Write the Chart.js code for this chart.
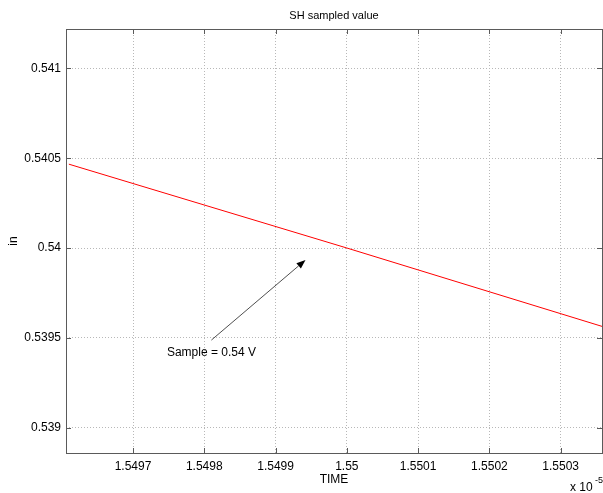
<!DOCTYPE html>
<html>
<head>
<meta charset="utf-8">
<script src="https://cdn.jsdelivr.net/npm/chart.js@4/dist/chart.umd.min.js"></script>
<style>
  html, body { margin: 0; padding: 0; background: #fff; }
  #wrap { width: 603px; height: 493px; }
</style>
</head>
<body>
<div id="wrap"><canvas id="shChart" width="603" height="493"></canvas></div>
<script>
// time axis values are in units of 1e-5 s (shown with the x 10^-5 multiplier)
const timeVals = [1.54961, 1.55000, 1.55036];
const inVals = [0.540467, 0.540000, 0.539561];

const xTicks = [1.5497, 1.5498, 1.5499, 1.55, 1.5501, 1.5502, 1.5503];
const yTicks = [0.539, 0.5395, 0.54, 0.5405, 0.541];
const xLimits = [1.549606, 1.550358];
const yLimits = [0.538858, 0.54122];

// annotation arrow: text end -> point near the curve
const arrowFrom = [1.54981, 0.539487];
const arrowTo = [1.549942, 0.539933];
const arrowText = 'Sample = 0.54 V';

const FONT = "'Liberation Sans', Arial, Helvetica, sans-serif";

function fmt(v) {
  return String(Number(v.toFixed(5)));
}

// box, inward tick marks, title, multiplier and the arrow annotation
const matlabLook = {
  id: 'matlabLook',
  afterDraw(chart) {
    const ctx = chart.ctx;
    const a = chart.chartArea;
    const xs = chart.scales.x, ys = chart.scales.y;
    ctx.save();

    // axes box
    ctx.strokeStyle = '#5a5a5a';
    ctx.lineWidth = 1;
    ctx.strokeRect(Math.round(a.left) + 0.5, Math.round(a.top) + 0.5,
      Math.round(a.right - a.left), Math.round(a.bottom - a.top));

    // tick marks pointing inside on all four sides
    const tl = 5;
    ctx.beginPath();
    xTicks.forEach(t => {
      const px = Math.round(xs.getPixelForValue(t)) + 0.5;
      ctx.moveTo(px, a.bottom); ctx.lineTo(px, a.bottom - tl);
      ctx.moveTo(px, a.top); ctx.lineTo(px, a.top + tl);
    });
    yTicks.forEach(t => {
      const py = Math.round(ys.getPixelForValue(t)) + 0.5;
      ctx.moveTo(a.left, py); ctx.lineTo(a.left + tl, py);
      ctx.moveTo(a.right, py); ctx.lineTo(a.right - tl, py);
    });
    ctx.stroke();

    // title
    ctx.fillStyle = '#000';
    ctx.font = '11px ' + FONT;
    ctx.textAlign = 'center';
    ctx.textBaseline = 'middle';
    ctx.fillText('SH sampled value', (a.left + a.right) / 2, 16);

    // exponent label
    ctx.font = '12px ' + FONT;
    ctx.textAlign = 'left';
    ctx.textBaseline = 'alphabetic';
    ctx.fillText('x 10', 570, 491);
    ctx.font = '9px ' + FONT;
    ctx.fillText('-5', 595, 483);

    // arrow
    const x0 = xs.getPixelForValue(arrowFrom[0]), y0 = ys.getPixelForValue(arrowFrom[1]);
    const x1 = xs.getPixelForValue(arrowTo[0]), y1 = ys.getPixelForValue(arrowTo[1]);
    const ang = Math.atan2(y1 - y0, x1 - x0);
    const hl = 9, hw = 3.5;
    const bx = x1 - hl * Math.cos(ang), by = y1 - hl * Math.sin(ang);
    ctx.strokeStyle = '#222';
    ctx.lineWidth = 0.8;
    ctx.beginPath();
    ctx.moveTo(x0, y0);
    ctx.lineTo(bx, by);
    ctx.stroke();
    ctx.fillStyle = '#000';
    ctx.beginPath();
    ctx.moveTo(x1, y1);
    ctx.lineTo(bx + hw * Math.sin(ang), by - hw * Math.cos(ang));
    ctx.lineTo(bx - hw * Math.sin(ang), by + hw * Math.cos(ang));
    ctx.closePath();
    ctx.fill();

    ctx.font = '12px ' + FONT;
    ctx.textAlign = 'center';
    ctx.textBaseline = 'middle';
    ctx.fillText(arrowText, x0, y0 + 13);

    ctx.restore();
  }
};

const ctx = document.getElementById('shChart').getContext('2d');
const chart = new Chart(ctx, {
  type: 'line',
  data: {
    datasets: [{
      data: timeVals.map((t, i) => ({ x: t, y: inVals[i] })),
      borderColor: '#ff0000',
      borderWidth: 1,
      pointRadius: 0,
      tension: 0,
      fill: false
    }]
  },
  options: {
    responsive: false,
    animation: false,
    events: [],
    layout: { padding: { top: 29, right: 1, left: 0, bottom: 0 } },
    plugins: { legend: { display: false }, title: { display: false }, tooltip: { enabled: false } },
    scales: {
      x: {
        type: 'linear',
        min: xLimits[0],
        max: xLimits[1],
        afterBuildTicks: s => { s.ticks = xTicks.map(v => ({ value: v })); },
        afterFit: s => { s.height = 40; },
        grid: { color: '#b8b8b8', drawTicks: false, lineWidth: 1 },
        border: { display: false, dash: [1, 2] },
        ticks: {
          color: '#000',
          font: { family: FONT, size: 12 },
          padding: 6,
          maxRotation: 0,
          autoSkip: false,
          callback: v => fmt(v)
        },
        title: {
          display: true, text: 'TIME', color: '#000',
          font: { family: FONT, size: 12 }, padding: { top: 0, bottom: 6 }
        }
      },
      y: {
        type: 'linear',
        min: yLimits[0],
        max: yLimits[1],
        afterBuildTicks: s => { s.ticks = yTicks.map(v => ({ value: v })); },
        afterFit: s => { s.width = 66; },
        grid: { color: '#b8b8b8', drawTicks: false, lineWidth: 1 },
        border: { display: false, dash: [1, 2] },
        ticks: {
          color: '#000',
          font: { family: FONT, size: 12 },
          padding: 5,
          autoSkip: false,
          callback: v => fmt(v)
        },
        title: {
          display: true, text: 'in', color: '#000',
          font: { family: FONT, size: 12 }, padding: { top: 6, bottom: 0 }
        }
      }
    }
  },
  plugins: [matlabLook]
});
</script>
</body>
</html>
